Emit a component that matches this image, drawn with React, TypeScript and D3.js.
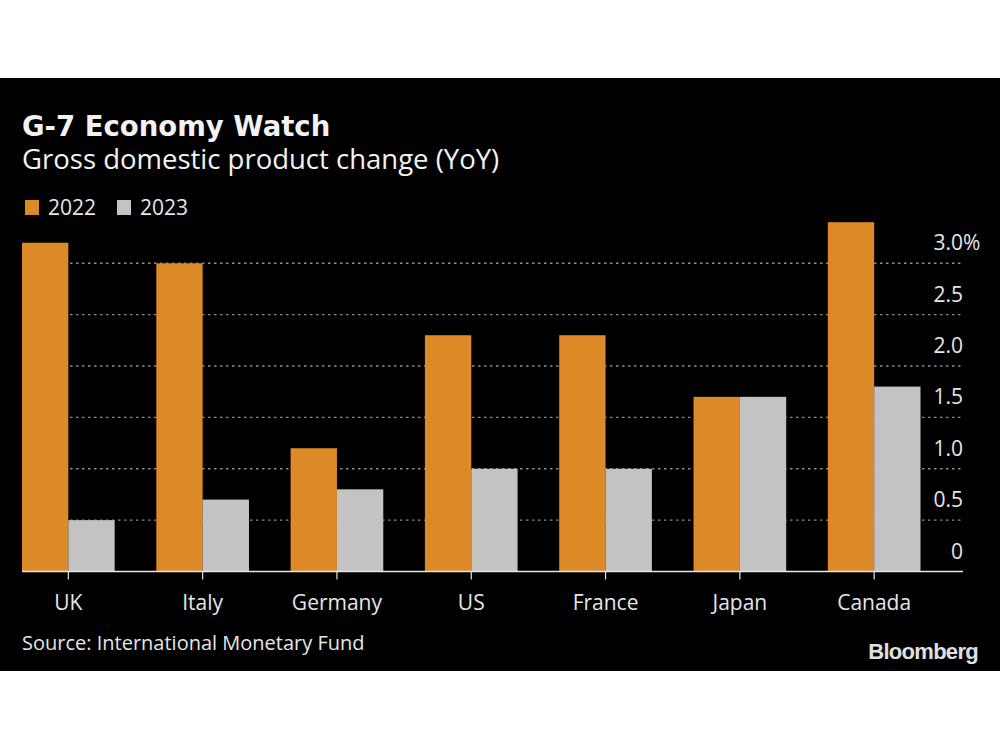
import React from "react";
import * as d3 from "d3";

const countries = ["UK", "Italy", "Germany", "US", "France", "Japan", "Canada"];
const series = ["2022", "2023"];
const values2022 = [3.2, 3.0, 1.2, 2.3, 2.3, 1.7, 3.4];
const values2023 = [0.5, 0.7, 0.8, 1.0, 1.0, 1.7, 1.8];
const yTicks = [0, 0.5, 1.0, 1.5, 2.0, 2.5, 3.0];
const colors = ["#dc8a27", "#c3c3c3"];

const W = 1000;
const H = 750;
const FONT = "'Open Sans', 'Noto Sans', sans-serif";

export default function App() {
  const x0 = d3.scaleBand<string>().domain(countries).range([22, 920.5]).paddingInner(0.31).paddingOuter(0);
  const x1 = d3.scaleBand<string>().domain(series).range([0, x0.bandwidth()]).padding(0);
  const y = d3.scaleLinear().domain([0, 3]).range([571.5, 263.3]);
  const data = [values2022, values2023];
  const axisRight = 963;

  return (
    <svg width={W} height={H} style={{ position: "absolute", left: 0, top: 0, background: "#fff" }}>
      <rect x={0} y={78} width={W} height={593} fill="#000" />
      <text x={22} y={136} fill="#f2f2f2" fontFamily="'DejaVu Sans', sans-serif" fontWeight={700} fontSize={27.5}>G-7 Economy Watch</text>
      <text x={22} y={169} fill="#f2f2f2" fontFamily={FONT} fontSize={27.5}>Gross domestic product change (YoY)</text>
      {series.map((s, i) => (
        <g key={s} transform={`translate(${i === 0 ? 25 : 117},0)`}>
          <rect x={0} y={200} width={14} height={15} fill={colors[i]} />
          <text x={23} y={215} fill="#e6e6e6" fontFamily={FONT} fontSize={21}>{s}</text>
        </g>
      ))}
      {yTicks.filter((t) => t > 0).map((t) => (
        <line key={t} x1={22} x2={axisRight} y1={y(t)} y2={y(t)} stroke="#8a8a8a" strokeWidth={1.4} strokeDasharray="2.5 3.5" />
      ))}
      {countries.map((c, ci) => (
        <g key={c} transform={`translate(${x0(c)},0)`}>
          {series.map((s, si) => (
            <rect key={s} x={x1(s)} y={y(data[si][ci])} width={x1.bandwidth()} height={y(0) - y(data[si][ci])} fill={colors[si]} />
          ))}
        </g>
      ))}
      <line x1={22} x2={axisRight} y1={y(0)} y2={y(0)} stroke="#e6e6e6" strokeWidth={1.5} />
      {countries.map((c) => {
        const cx = (x0(c) as number) + x0.bandwidth() / 2;
        return (
          <g key={c}>
            <line x1={cx} x2={cx} y1={y(0)} y2={y(0) + 8} stroke="#e6e6e6" strokeWidth={1.2} />
            <text x={cx} y={610} textAnchor="middle" fill="#e6e6e6" fontFamily={FONT} fontSize={21}>{c}</text>
          </g>
        );
      })}
      {yTicks.map((t) => (
        <g key={t}>
          <text x={axisRight} y={y(t) - 13} textAnchor="end" fill="#e6e6e6" fontFamily={FONT} fontSize={21}>
            {t === 0 ? "0" : d3.format(".1f")(t)}
          </text>
          {t === 3 && (
            <text x={axisRight} y={y(t) - 13} fill="#e6e6e6" fontFamily={FONT} fontSize={21}>%</text>
          )}
        </g>
      ))}
      <text x={22} y={650} fill="#e6e6e6" fontFamily={FONT} fontSize={20}>Source: International Monetary Fund</text>
      <text x={978} y={659} textAnchor="end" fill="#e0e0e0" fontFamily="'Liberation Sans', Arial, sans-serif" fontWeight={700} fontSize={22} letterSpacing={-0.7}>Bloomberg</text>
    </svg>
  );
}
